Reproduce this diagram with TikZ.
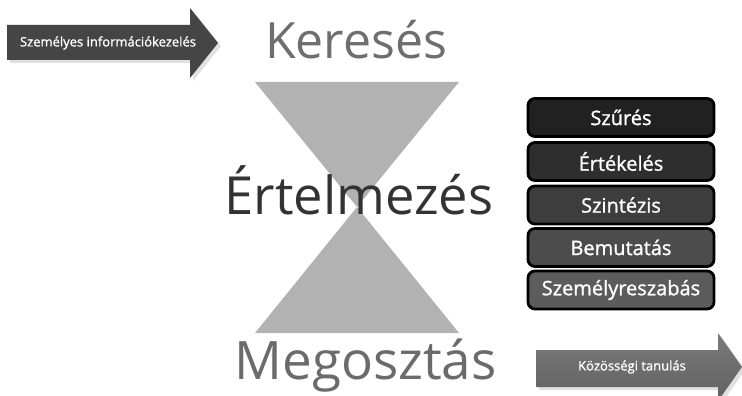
\documentclass[tikz,border=0pt]{standalone}
\usepackage{fontspec}
\setmainfont{Open Sans}
\newfontfamily\semib[FakeBold=1.2]{Open Sans}
\begin{document}
\begin{tikzpicture}[x=1pt,y=-1pt,
  bigtext/.style={anchor=base,inner sep=0pt,font=\fontsize{50}{60}\selectfont},
  arrowtext/.style={inner sep=0pt,text=white,font=\semib\fontsize{13}{16}\selectfont},
  stepbox/.style={draw=black,line width=2.8pt,rounded corners=7pt,minimum width=186pt,minimum height=38pt,inner sep=0pt,text=white,font=\semib\fontsize{20}{24}\selectfont},
  hourglass/.style={fill=black!30,draw=none},
  shadowfill/.style={fill=black!12,draw=none}]
\useasboundingbox (0,0) rectangle (742,396);
\fill[white] (0,0) rectangle (742,396);
% hourglass
\coordinate (apex) at (357,207);
\fill[hourglass] (255,82) -- (459,82) -- (apex) -- cycle;
\fill[hourglass] (255,333) -- (459,333) -- (apex) -- cycle;
% top-left arrow
\fill[shadowfill] (10,28) -- (193,28) -- (193,11) -- (221,46) -- (193,81) -- (193,63) -- (10,63) -- cycle;
\fill[black!73] (7,25) -- (190,25) -- (190,8) -- (218,43) -- (190,78) -- (190,60) -- (7,60) -- cycle;
\node[arrowtext] (personal) at (108,43) {Személyes információkezelés};
% bottom-right arrow
\fill[shadowfill] (539,353) -- (721,353) -- (721,336) -- (745,370) -- (721,404) -- (721,390) -- (539,390) -- cycle;
\shade[top color=black!52,bottom color=black!62] (536,350) -- (718,350) -- (718,333) -- (742,367) -- (718,401) -- (718,387) -- (536,387) -- cycle;
\node[arrowtext] (community) at (632,367) {Közösségi tanulás};
% big labels
\node[bigtext,text=black!57] (search) at (356,59) {Keresés};
\node[bigtext,text=black!80,font=\fontsize{52.5}{62}\selectfont] (interpret) at (359,214) {Értelmezés};
\node[bigtext,text=black!58,font=\fontsize{53}{62}\selectfont] (share) at (365.5,379) {Megosztás};
% stacked boxes
\node[stepbox,fill=black!87] (filter) at (621,117.5) {Szűrés};
\node[stepbox,fill=black!82] (evaluate) at (621,161.5) {Értékelés};
\node[stepbox,fill=black!76] (synth) at (621,205) {Szintézis};
\node[stepbox,fill=black!70] (present) at (621,247.5) {Bemutatás};
\node[stepbox,fill=black!64] (personalize) at (621,290) {Személyreszabás};
\end{tikzpicture}
\end{document}
